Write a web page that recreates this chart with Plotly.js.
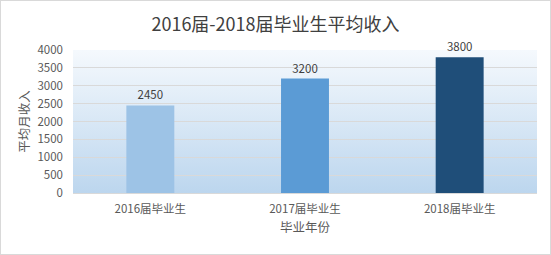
<!DOCTYPE html>
<html>
<head>
<meta charset="utf-8">
<script src="https://cdn.plot.ly/plotly-3.0.1.min.js"></script>
<style>
html,body{margin:0;padding:0;background:#fff;}
#wrap{position:relative;width:551px;height:255px;}
#chart{width:551px;height:255px;}
#border{position:absolute;left:0;top:0;width:551px;height:255px;box-sizing:border-box;border:1px solid #D9D9D9;pointer-events:none;}
</style>
</head>
<body>
<div id="wrap"><div id="chart"></div><div id="border"></div></div>
<script>
const categories = ["2016届毕业生", "2017届毕业生", "2018届毕业生"];
const incomes = [2450, 3200, 3800];
const barColors = ["#9DC3E6", "#5B9BD5", "#1F4E79"];
const yTicks = [0, 500, 1000, 1500, 2000, 2500, 3000, 3500, 4000];

const FONT = '"Noto Sans CJK SC", "Noto Sans", sans-serif';

const grad = 'data:image/svg+xml;utf8,' + encodeURIComponent(
  '<svg xmlns="http://www.w3.org/2000/svg" width="100" height="100" preserveAspectRatio="none">' +
  '<defs><linearGradient id="g" x1="0" y1="0" x2="0" y2="1">' +
  '<stop offset="0" stop-color="#F5F9FD"/><stop offset="1" stop-color="#BCD6EE"/>' +
  '</linearGradient></defs><rect width="100" height="100" fill="url(#g)"/></svg>');

const trace = {
  type: 'bar',
  x: categories,
  y: incomes,
  marker: {color: barColors, line: {width: 0}},
  width: 0.31,
  text: incomes.map(String),
  textposition: 'outside',
  textfont: {family: FONT, size: 11.5, color: '#404040'},
  cliponaxis: false,
  hoverinfo: 'none'
};

const layout = {
  width: 551, height: 255,
  margin: {l: 73, r: 14, t: 50, b: 62},
  paper_bgcolor: 'rgba(0,0,0,0)',
  plot_bgcolor: 'rgba(0,0,0,0)',
  showlegend: false,
  font: {family: FONT, color: '#595959'},
  title: {
    text: '2016届-2018届毕业生平均收入',
    font: {family: FONT, size: 18, color: '#404040'},
    x: 0.5, xanchor: 'center', y: 0.905, yanchor: 'middle'
  },
  xaxis: {
    type: 'category',
    tickfont: {family: FONT, size: 11.5, color: '#595959'},
    showgrid: false, showline: false, ticks: '',
    ticklabelstandoff: 7,
    title: {text: '毕业年份', font: {family: FONT, size: 12.5, color: '#595959'}, standoff: 8}
  },
  yaxis: {
    range: [0, 4000],
    tickvals: yTicks,
    ticktext: yTicks.map(String),
    tickfont: {family: FONT, size: 11.5, color: '#595959'},
    gridcolor: '#D9D9D9', gridwidth: 1,
    zeroline: true, zerolinecolor: '#D9D9D9', zerolinewidth: 1,
    showline: false, ticks: '',
    ticklabelstandoff: 9,
    title: {text: '平均月收入', font: {family: FONT, size: 12.5, color: '#595959'}, standoff: 5}
  },
  images: [{
    source: grad, xref: 'paper', yref: 'paper',
    x: 0, y: 1, sizex: 1, sizey: 1, sizing: 'stretch',
    xanchor: 'left', yanchor: 'top', layer: 'below'
  }]
};

Plotly.newPlot('chart', [trace], layout, {displayModeBar: false, staticPlot: true});
</script>
</body>
</html>
